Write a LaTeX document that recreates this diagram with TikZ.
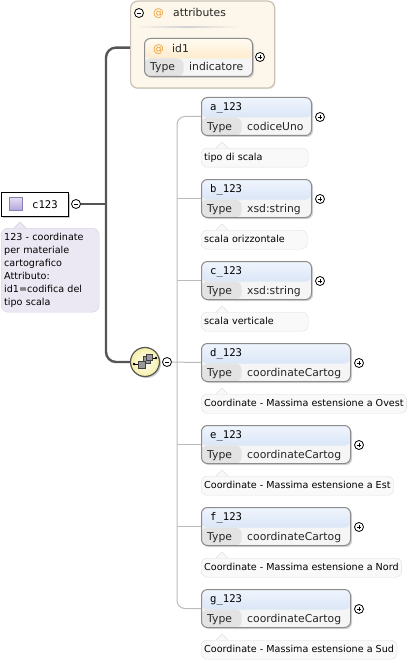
\documentclass[tikz,border=0pt]{standalone}
\usepackage{fontspec}
\setmainfont{DejaVu Sans}
\setmonofont{DejaVu Sans Mono}
\usetikzlibrary{shadows}
\definecolor{hdtop}{HTML}{F0F5FD}
\definecolor{hdbot}{HTML}{C6D8F1}
\definecolor{attop}{HTML}{FFFBF2}
\definecolor{atbot}{HTML}{FCDDAA}
\definecolor{typefill}{HTML}{E3E3E3}
\definecolor{valfill}{HTML}{F5F5F5}
\definecolor{boxline}{HTML}{8C8C8C}
\definecolor{annfill}{HTML}{F9F9F9}
\definecolor{annline}{HTML}{E0E0E0}
\definecolor{grpfill}{HTML}{FDF7EB}
\definecolor{grpline}{HTML}{C9C2B4}
\definecolor{rootann}{HTML}{ECE8F3}
\definecolor{rootline}{HTML}{D3CDE3}
\definecolor{icontop}{HTML}{E6E0F3}
\definecolor{iconbot}{HTML}{B4A6DA}
\definecolor{iconline}{HTML}{8C7FB8}
\definecolor{atsign}{HTML}{E89C2C}
\definecolor{trunkc}{HTML}{555555}
\definecolor{seqline}{HTML}{BBBBBB}
\definecolor{seqfill}{HTML}{F6EFA8}

\begin{document}
\begin{tikzpicture}[x=1pt,y=-1pt]
        \tikzstyle{every node}+=[inner sep=0pt]
        \tikzstyle{elbox}=[draw=boxline, line width=1pt, rounded corners=6pt, minimum height=38pt, fill=valfill, anchor=north west,
          drop shadow={shadow xshift=1.5pt,shadow yshift=-1.5pt,opacity=0.35},
          path picture={\shade[top color=hdtop, bottom color=hdbot] (path picture bounding box.north west) rectangle ([yshift=18pt]path picture bounding box.south east);
            \fill[typefill] ([yshift=18pt]path picture bounding box.south west) rectangle ([xshift=40pt]path picture bounding box.south west);}]
        \tikzstyle{attbox}=[draw=boxline, line width=1pt, rounded corners=6pt, minimum height=38pt, fill=valfill, anchor=north west,
          drop shadow={shadow xshift=1.5pt,shadow yshift=-1.5pt,opacity=0.35},
          path picture={\shade[top color=attop, bottom color=atbot] (path picture bounding box.north west) rectangle ([yshift=18pt]path picture bounding box.south east);
            \fill[typefill] ([yshift=18pt]path picture bounding box.south west) rectangle ([xshift=39pt]path picture bounding box.south west);}]
        \tikzstyle{grpbox}=[draw=grpline, line width=1.2pt, rounded corners=7pt, fill=grpfill, anchor=north west,
          drop shadow={shadow xshift=1pt,shadow yshift=-1pt,opacity=0.2}]
        \tikzstyle{rootbox}=[draw=black, line width=1.2pt, fill=white, anchor=north west,
          drop shadow={shadow xshift=1.5pt,shadow yshift=-1.5pt,opacity=0.4}]
        \tikzstyle{rootnote}=[draw=rootline, fill=rootann, rounded corners=7pt, anchor=north west, text width=92pt, minimum height=84pt,
          inner xsep=3pt, align=left, font=\fontsize{9.6}{13}\selectfont]
        \tikzstyle{annot}=[draw=annline, fill=annfill, rounded corners=6pt, anchor=north west, minimum height=19pt, inner xsep=3pt,
          text height=7pt, text depth=2pt, font=\fontsize{9.6}{11}\selectfont]
        \tikzstyle{elname}=[anchor=base west, font=\ttfamily\fontsize{10.6}{12}\selectfont]
        \tikzstyle{tyname}=[anchor=base west, font=\fontsize{10.8}{12}\selectfont, text=black!85]
        \tikzstyle{atmark}=[anchor=base west, font=\fontsize{10.8}{12}\selectfont, text=atsign]
        \tikzstyle{pm}=[circle, draw=black, fill=white, minimum size=9pt, line width=0.8pt]
        \tikzstyle{minus}=[pm, path picture={\draw[line width=0.8pt] ([xshift=-2.3pt]path picture bounding box.center) -- ([xshift=2.3pt]path picture bounding box.center);}]
        \tikzstyle{plus}=[pm, path picture={\draw[line width=0.8pt] ([xshift=-2.3pt]path picture bounding box.center) -- ([xshift=2.3pt]path picture bounding box.center);
            \draw[line width=0.8pt] ([yshift=-2.3pt]path picture bounding box.center) -- ([yshift=2.3pt]path picture bounding box.center);}]
        \tikzstyle{seqnode}=[circle, draw=trunkc, line width=1.2pt, minimum size=29pt, inner color=yellow!3, outer color=seqfill,
          drop shadow={shadow xshift=1.5pt,shadow yshift=-1.5pt,opacity=0.4}]
        \tikzstyle{trunkline}=[draw=trunkc, line width=2.4pt]
        \tikzstyle{seqlink}=[draw=seqline, line width=1pt]
        \useasboundingbox (0,0) rectangle (418,663);
        % attributes
        \node[grpbox, minimum width=144pt, minimum height=87pt] (attrs) at (130,0.5) {};
        \node[minus] (attrsm) at (139,13) {};
        \node[atmark] (attrsat) at (153,17) {@};
        \node[tyname] (attrst) at (173,17) {attributes};
        \shade[left color=grpfill, right color=grpfill, middle color=black!18] (135,26.5) rectangle (240,28);
        \node[attbox, minimum width=108pt] (id1) at (144,38) {};
        \node[atmark] (id1at) at (153,52.5) {@};
        \node[tyname] (id1n) at (172,52.5) {id1};
        \node[tyname] (id1t) at (150,71) {Type};
        \node[tyname] (id1v) at (189,71) {indicatore};
        \node[plus] (id1p) at (260,57) {};
        % root element
        \node[rootbox, minimum width=67pt, minimum height=24pt] (c123) at (1,192) {};
        \shade[top color=icontop, bottom color=iconbot, draw=iconline] (9,197) rectangle (22,210);
        \node[elname] (c123n) at (32,208.5) {c123};
        \node[minus] (c123m) at (76,204) {};
        \node[rootnote] (c123d) at (1,228) {123 - coordinate\\per materiale\\cartografico\\Attributo:\\id1=codifica del\\tipo scala};
        \draw[draw=rootline, fill=rootann] (14,228) -- (20,222) -- (26,228);
        % sequence
        \node[seqnode] (seq) at (145,362) {};
        \draw[line width=0.7pt] (134,364) -- (140,364);
        \fill (134,364) circle (1.3);
        \draw[line width=0.7pt] (150,358) -- (156,358);
        \fill (156,358) circle (1.3);
        \filldraw[fill=black!40, draw=black!75, line width=0.5pt] (143,356) rectangle (150,363);
        \filldraw[fill=black!40, draw=black!75, line width=0.5pt] (146,354) rectangle (152,360);
        \filldraw[fill=black!40, draw=black!75, line width=0.5pt] (138,361) rectangle (145,368);
        \node[minus] (seqm) at (167,362) {};
        \coordinate (trunk) at (106,204);
        \coordinate (seqx) at (177,362);
        % a_123
        \node[elbox, minimum width=110pt] (a123) at (201,97) {};
        \node[elname] (a123n) at (210,110.5) {a\_123};
        \node[tyname] (a123t) at (207,130.5) {Type};
        \node[tyname] (a123v) at (247,130.5) {codiceUno};
        \node[plus] (a123p) at (320,117) {};
        \node[annot, text width=101pt] (a123d) at (201,148) {tipo di scala};
        \draw[draw=annline, fill=annfill] (216,148) -- (222,142) -- (228,148);
        % b_123
        \node[elbox, minimum width=110pt] (b123) at (201,179) {};
        \node[elname] (b123n) at (210,192.5) {b\_123};
        \node[tyname] (b123t) at (207,212.5) {Type};
        \node[tyname] (b123v) at (247,212.5) {xsd:string};
        \node[plus] (b123p) at (320,199) {};
        \node[annot, text width=100pt] (b123d) at (201,230) {scala orizzontale};
        \draw[draw=annline, fill=annfill] (216,230) -- (222,224) -- (228,230);
        % c_123
        \node[elbox, minimum width=110pt] (c123b) at (201,261) {};
        \node[elname] (c123bn) at (210,274.5) {c\_123};
        \node[tyname] (c123bt) at (207,294.5) {Type};
        \node[tyname] (c123bv) at (247,294.5) {xsd:string};
        \node[plus] (c123bp) at (320,281) {};
        \node[annot, text width=101pt] (c123bd) at (201,312) {scala verticale};
        \draw[draw=annline, fill=annfill] (216,312) -- (222,306) -- (228,312);
        % d_123
        \node[elbox, minimum width=149pt] (d123) at (201,343) {};
        \node[elname] (d123n) at (210,356.5) {d\_123};
        \node[tyname] (d123t) at (207,376.5) {Type};
        \node[tyname] (d123v) at (247,376.5) {coordinateCartog};
        \node[plus] (d123p) at (359,363) {};
        \node[annot] (d123d) at (201,394) {Coordinate - Massima estensione a Ovest};
        \draw[draw=annline, fill=annfill] (216,394) -- (222,388) -- (228,394);
        % e_123
        \node[elbox, minimum width=149pt] (e123) at (201,425) {};
        \node[elname] (e123n) at (210,438.5) {e\_123};
        \node[tyname] (e123t) at (207,458.5) {Type};
        \node[tyname] (e123v) at (247,458.5) {coordinateCartog};
        \node[plus] (e123p) at (359,445) {};
        \node[annot] (e123d) at (201,476) {Coordinate - Massima estensione a Est};
        \draw[draw=annline, fill=annfill] (216,476) -- (222,470) -- (228,476);
        % f_123
        \node[elbox, minimum width=149pt] (f123) at (201,507) {};
        \node[elname] (f123n) at (210,520.5) {f\_123};
        \node[tyname] (f123t) at (207,540.5) {Type};
        \node[tyname] (f123v) at (247,540.5) {coordinateCartog};
        \node[plus] (f123p) at (359,527) {};
        \node[annot] (f123d) at (201,558) {Coordinate - Massima estensione a Nord};
        \draw[draw=annline, fill=annfill] (216,558) -- (222,552) -- (228,558);
        % g_123
        \node[elbox, minimum width=149pt] (g123) at (201,589) {};
        \node[elname] (g123n) at (210,602.5) {g\_123};
        \node[tyname] (g123t) at (207,622.5) {Type};
        \node[tyname] (g123v) at (247,622.5) {coordinateCartog};
        \node[plus] (g123p) at (359,609) {};
        \node[annot] (g123d) at (201,640) {Coordinate - Massima estensione a Sud};
        \draw[draw=annline, fill=annfill] (216,640) -- (222,634) -- (228,640);
        % connectors
        \draw[trunkline] (c123m) -- (trunk);
        \draw[trunkline, rounded corners=10pt] ([yshift=-3pt]attrs.west) -| (trunk |- seq.west) -- (seq.west);
        \draw[seqlink, rounded corners=8pt] (a123.west) -| (seqx |- g123.west) -- (g123.west);
        \draw[seqlink] (seqm) -- (d123.west);
        \draw[seqlink] (seqx |- b123.west) -- (b123.west);
        \draw[seqlink] (seqx |- c123b.west) -- (c123b.west);
        \draw[seqlink] (seqx |- e123.west) -- (e123.west);
        \draw[seqlink] (seqx |- f123.west) -- (f123.west);
\end{tikzpicture}
\end{document}
